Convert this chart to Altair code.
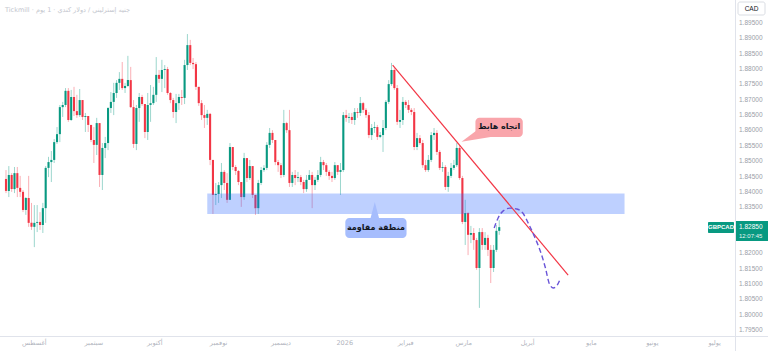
import altair as alt
import pandas as pd

# ---------------- data ----------------
closes = [
    1.8403, 1.8455, 1.8409, 1.8461, 1.8413, 1.8400, 1.8341, 1.8380, 1.8299, 1.8286,
    1.8299, 1.8302, 1.8292, 1.8347, 1.8478, 1.8497, 1.8504, 1.8562, 1.8588, 1.8676,
    1.8683, 1.8729, 1.8634, 1.8709, 1.8663, 1.8650, 1.8699, 1.8644, 1.8647, 1.8618,
    1.8569, 1.8553, 1.8624, 1.8455, 1.8543, 1.8559, 1.8673, 1.8693, 1.8722, 1.8755,
    1.8768, 1.8738, 1.8745, 1.8764, 1.8676, 1.8556, 1.8673, 1.8709, 1.8686, 1.8595,
    1.8683, 1.8689, 1.8716, 1.8781, 1.8768, 1.8797, 1.8800, 1.8722, 1.8699, 1.8660,
    1.8689, 1.8709, 1.8706, 1.8813, 1.8878, 1.8820, 1.8816, 1.8742, 1.8689, 1.8650,
    1.8641, 1.8654, 1.8504, 1.8390, 1.8393, 1.8422, 1.8465, 1.8429, 1.8374, 1.8546,
    1.8481, 1.8468, 1.8432, 1.8383, 1.8510, 1.8445, 1.8484, 1.8390, 1.8347, 1.8429,
    1.8471, 1.8478, 1.8553, 1.8592, 1.8569, 1.8497, 1.8487, 1.8455, 1.8624, 1.8601,
    1.8429, 1.8455, 1.8445, 1.8448, 1.8432, 1.8409, 1.8439, 1.8455, 1.8422, 1.8439,
    1.8455, 1.8497, 1.8487, 1.8465, 1.8452, 1.8445, 1.8487, 1.8465, 1.8471, 1.8650,
    1.8641, 1.8644, 1.8634, 1.8660, 1.8657, 1.8689, 1.8667, 1.8650, 1.8585, 1.8608,
    1.8611, 1.8579, 1.8585, 1.8608, 1.8693, 1.8751, 1.8797, 1.8738, 1.8628, 1.8634,
    1.8693, 1.8683, 1.8667, 1.8660, 1.8546, 1.8575, 1.8559, 1.8487, 1.8471, 1.8504,
    1.8585, 1.8592, 1.8530, 1.8478, 1.8481, 1.8416, 1.8452, 1.8478, 1.8487, 1.8543,
    1.8445, 1.8302, 1.8331, 1.8260, 1.8266, 1.8243, 1.8152, 1.8269, 1.8227, 1.8250,
    1.8211, 1.8152, 1.8211, 1.8273, 1.8285,
]
opens = [
    1.8442, 1.8403, 1.8455, 1.8409, 1.8461, 1.8413, 1.8400, 1.8341, 1.8380, 1.8299,
    1.8286, 1.8299, 1.8302, 1.8292, 1.8347, 1.8478, 1.8497, 1.8504, 1.8562, 1.8588,
    1.8676, 1.8683, 1.8729, 1.8634, 1.8709, 1.8663, 1.8650, 1.8699, 1.8644, 1.8647,
    1.8618, 1.8569, 1.8553, 1.8624, 1.8455, 1.8543, 1.8559, 1.8673, 1.8693, 1.8722,
    1.8755, 1.8768, 1.8738, 1.8745, 1.8764, 1.8676, 1.8556, 1.8673, 1.8709, 1.8686,
    1.8595, 1.8683, 1.8689, 1.8716, 1.8781, 1.8768, 1.8797, 1.8800, 1.8722, 1.8699,
    1.8660, 1.8689, 1.8709, 1.8706, 1.8813, 1.8878, 1.8820, 1.8816, 1.8742, 1.8689,
    1.8650, 1.8641, 1.8654, 1.8504, 1.8390, 1.8393, 1.8422, 1.8465, 1.8429, 1.8374,
    1.8546, 1.8481, 1.8468, 1.8432, 1.8383, 1.8510, 1.8445, 1.8484, 1.8390, 1.8347,
    1.8429, 1.8471, 1.8478, 1.8553, 1.8592, 1.8569, 1.8497, 1.8487, 1.8455, 1.8624,
    1.8601, 1.8429, 1.8455, 1.8445, 1.8448, 1.8432, 1.8409, 1.8439, 1.8455, 1.8422,
    1.8439, 1.8455, 1.8497, 1.8487, 1.8465, 1.8452, 1.8445, 1.8487, 1.8465, 1.8471,
    1.8650, 1.8641, 1.8644, 1.8634, 1.8660, 1.8657, 1.8689, 1.8667, 1.8650, 1.8585,
    1.8608, 1.8611, 1.8579, 1.8585, 1.8608, 1.8693, 1.8751, 1.8797, 1.8738, 1.8628,
    1.8634, 1.8693, 1.8683, 1.8667, 1.8660, 1.8546, 1.8575, 1.8559, 1.8487, 1.8471,
    1.8504, 1.8585, 1.8592, 1.8530, 1.8478, 1.8481, 1.8416, 1.8452, 1.8478, 1.8487,
    1.8543, 1.8445, 1.8302, 1.8331, 1.8260, 1.8266, 1.8243, 1.8152, 1.8269, 1.8227,
    1.8250, 1.8211, 1.8152, 1.8211, 1.8273,
]
highs = [
    1.8471, 1.8484, 1.8461, 1.8481, 1.8481, 1.8452, 1.8406, 1.8383, 1.8452, 1.8364,
    1.8357, 1.8357, 1.8334, 1.8364, 1.8484, 1.8514, 1.8533, 1.8572, 1.8611, 1.8683,
    1.8693, 1.8738, 1.8738, 1.8732, 1.8742, 1.8716, 1.8735, 1.8699, 1.8657, 1.8647,
    1.8618, 1.8611, 1.8641, 1.8624, 1.8559, 1.8579, 1.8676, 1.8725, 1.8755, 1.8764,
    1.8790, 1.8823, 1.8755, 1.8843, 1.8807, 1.8699, 1.8683, 1.8722, 1.8716, 1.8686,
    1.8722, 1.8748, 1.8742, 1.8839, 1.8797, 1.8830, 1.8813, 1.8807, 1.8725, 1.8706,
    1.8719, 1.8719, 1.8732, 1.8830, 1.8914, 1.8895, 1.8836, 1.8823, 1.8742, 1.8699,
    1.8683, 1.8667, 1.8657, 1.8504, 1.8429, 1.8432, 1.8494, 1.8471, 1.8461, 1.8559,
    1.8546, 1.8487, 1.8471, 1.8432, 1.8527, 1.8510, 1.8504, 1.8484, 1.8390, 1.8439,
    1.8481, 1.8487, 1.8562, 1.8608, 1.8601, 1.8569, 1.8504, 1.8494, 1.8667, 1.8628,
    1.8667, 1.8465, 1.8471, 1.8465, 1.8455, 1.8439, 1.8455, 1.8471, 1.8465, 1.8448,
    1.8471, 1.8514, 1.8504, 1.8494, 1.8471, 1.8465, 1.8497, 1.8487, 1.8494, 1.8660,
    1.8667, 1.8657, 1.8657, 1.8673, 1.8673, 1.8709, 1.8693, 1.8673, 1.8660, 1.8621,
    1.8628, 1.8618, 1.8595, 1.8634, 1.8699, 1.8764, 1.8820, 1.8803, 1.8748, 1.8667,
    1.8709, 1.8699, 1.8699, 1.8673, 1.8673, 1.8592, 1.8585, 1.8569, 1.8504, 1.8520,
    1.8595, 1.8608, 1.8601, 1.8536, 1.8497, 1.8487, 1.8465, 1.8494, 1.8504, 1.8559,
    1.8553, 1.8452, 1.8374, 1.8334, 1.8289, 1.8282, 1.8250, 1.8282, 1.8282, 1.8269,
    1.8260, 1.8227, 1.8227, 1.8292, 1.8308,
]
lows = [
    1.8396, 1.8383, 1.8400, 1.8396, 1.8383, 1.8383, 1.8334, 1.8325, 1.8286, 1.8276,
    1.8220, 1.8269, 1.8276, 1.8266, 1.8299, 1.8448, 1.8432, 1.8494, 1.8556, 1.8562,
    1.8644, 1.8676, 1.8628, 1.8631, 1.8647, 1.8641, 1.8644, 1.8634, 1.8595, 1.8595,
    1.8562, 1.8494, 1.8520, 1.8416, 1.8406, 1.8510, 1.8536, 1.8657, 1.8650, 1.8706,
    1.8732, 1.8732, 1.8722, 1.8742, 1.8673, 1.8543, 1.8536, 1.8628, 1.8680, 1.8575,
    1.8569, 1.8628, 1.8683, 1.8693, 1.8755, 1.8725, 1.8738, 1.8716, 1.8689, 1.8641,
    1.8624, 1.8667, 1.8683, 1.8686, 1.8797, 1.8813, 1.8800, 1.8732, 1.8680, 1.8634,
    1.8608, 1.8618, 1.8487, 1.8328, 1.8357, 1.8364, 1.8380, 1.8406, 1.8364, 1.8374,
    1.8471, 1.8455, 1.8422, 1.8351, 1.8374, 1.8432, 1.8439, 1.8380, 1.8325, 1.8328,
    1.8422, 1.8465, 1.8471, 1.8543, 1.8559, 1.8487, 1.8465, 1.8445, 1.8448, 1.8592,
    1.8416, 1.8416, 1.8422, 1.8432, 1.8422, 1.8396, 1.8400, 1.8439, 1.8347, 1.8406,
    1.8432, 1.8448, 1.8471, 1.8452, 1.8439, 1.8432, 1.8439, 1.8455, 1.8390, 1.8465,
    1.8628, 1.8624, 1.8621, 1.8618, 1.8641, 1.8647, 1.8657, 1.8641, 1.8575, 1.8569,
    1.8592, 1.8569, 1.8575, 1.8530, 1.8601, 1.8686, 1.8745, 1.8732, 1.8618, 1.8608,
    1.8618, 1.8673, 1.8657, 1.8650, 1.8536, 1.8536, 1.8553, 1.8478, 1.8465, 1.8465,
    1.8497, 1.8569, 1.8520, 1.8471, 1.8465, 1.8406, 1.8400, 1.8445, 1.8471, 1.8481,
    1.8439, 1.8295, 1.8227, 1.8194, 1.8233, 1.8211, 1.8146, 1.8022, 1.8211, 1.8211,
    1.8191, 1.8103, 1.8139, 1.8204, 1.8260,
]

month_names = ["أغسطس", "سبتمبر", "أكتوبر", "نوفمبر", "ديسمبر", "2026",
               "فبراير", "مارس", "أبريل", "مايو", "يونيو", "يوليو"]
month_bars = [10, 31, 52.5, 75, 97, 119.5, 141, 161.5, 184, 206.5, 228, 250]

# price-scale labels that are visible (1.830 and 1.825 sit under the last-price tag)
price_ticks = [1.795, 1.800, 1.805, 1.810, 1.815, 1.820, 1.835, 1.840,
               1.845, 1.850, 1.855, 1.860, 1.865, 1.870, 1.875, 1.880, 1.885, 1.890, 1.895]
price_labels = ["1.79500", "1.80000", "1.80500", "1.81000", "1.81500", "1.82000",
                "1.83500", "1.84000", "1.84500", "1.85000", "1.85500", "1.86000",
                "1.86500", "1.87000", "1.87500", "1.88000", "1.88500", "1.89000", "1.89500"]

last_price = 1.8285

# annotations (bar index / price)
zone_bars = [71.0, 218.2]
zone_prices = [1.8395, 1.8328]
trend_bars = [136.4, 198.3]
trend_prices = [1.8813, 1.8129]
path_bars = [172.2, 173.6, 175.4, 177.8, 180.2, 182.3, 184.4, 186.5, 188.6, 190.3, 191.7, 193.1, 194.5, 195.5]
path_prices = [1.8282, 1.8315, 1.8338, 1.8347, 1.8344, 1.8331, 1.8295, 1.8253, 1.8204, 1.8152, 1.8100, 1.8087, 1.8097, 1.8116]

# ---------------- frame ----------------
W, H = 735, 336
xs = alt.Scale(domain=[-0.35, 255.4], nice=False, zero=False)
ys = alt.Scale(domain=[1.79305, 1.90249], nice=False, zero=False)
GREEN, RED = "#089981", "#f23645"
cscale = alt.Scale(domain=["up", "down"], range=[GREEN, RED])
AR_FONT = "DejaVu Sans"

df = pd.DataFrame({"i": list(range(len(closes))), "open": opens, "high": highs,
                   "low": lows, "close": closes})
df["dir"] = ["up" if c >= o else "down" for o, c in zip(opens, closes)]

wicks = alt.Chart(df).mark_rule(strokeWidth=1, opacity=0.4).encode(
    x=alt.X("i:Q", scale=xs, axis=None),
    y=alt.Y("low:Q", scale=ys, axis=None),
    y2="high:Q",
    color=alt.Color("dir:N", scale=cscale, legend=None),
)
bodies = alt.Chart(df).mark_bar(size=2.1).encode(
    x=alt.X("i:Q", scale=xs, axis=None),
    y=alt.Y("open:Q", scale=ys, axis=None),
    y2="close:Q",
    color=alt.Color("dir:N", scale=cscale, legend=None),
)

# right price scale labels
ylabels = alt.Chart(pd.DataFrame({"p": price_ticks, "t": price_labels})).mark_text(
    font="Liberation Sans", fontSize=6.5, color="#9a9ea8", align="left", baseline="middle").encode(
    x=alt.value(W + 4), y=alt.Y("p:Q", scale=ys, axis=None), text="t:N")

zone = alt.Chart(pd.DataFrame({"x1": [zone_bars[0]], "x2": [zone_bars[1]],
                               "y1": [zone_prices[0]], "y2": [zone_prices[1]]})).mark_rect(
    color="#2962ff", opacity=0.3).encode(
    x=alt.X("x1:Q", scale=xs, axis=None), x2="x2:Q",
    y=alt.Y("y1:Q", scale=ys, axis=None), y2="y2:Q")

trend = alt.Chart(pd.DataFrame({"b": trend_bars, "p": trend_prices})).mark_line(
    color=RED, strokeWidth=1.2).encode(
    x=alt.X("b:Q", scale=xs, axis=None), y=alt.Y("p:Q", scale=ys, axis=None))

path = alt.Chart(pd.DataFrame({"b": path_bars, "p": path_prices, "o": list(range(len(path_bars)))})).mark_line(
    color="#6a55d8", strokeWidth=1.4, strokeDash=[5, 3], interpolate="monotone").encode(
    x=alt.X("b:Q", scale=xs, axis=None), y=alt.Y("p:Q", scale=ys, axis=None), order="o:Q")

# label: resistance zone
blue_box = alt.Chart(pd.DataFrame({"x1": [119.7], "x2": [141.3], "y1": [1.8315], "y2": [1.8250]})).mark_rect(
    color="#a6bdfd", cornerRadius=4).encode(
    x=alt.X("x1:Q", scale=xs, axis=None), x2="x2:Q",
    y=alt.Y("y1:Q", scale=ys, axis=None), y2="y2:Q")
blue_tail = alt.Chart(pd.DataFrame({"b": [130.1], "p": [1.8338]})).mark_point(
    shape="M0,-0.9 L0.45,0.8 L-0.45,0.8 Z", filled=True, size=400, color="#a6bdfd", opacity=1).encode(
    x=alt.X("b:Q", scale=xs, axis=None), y=alt.Y("p:Q", scale=ys, axis=None))
blue_text = alt.Chart(pd.DataFrame({"b": [130.5], "p": [1.8282], "t": ["منطقة مقاومة"]})).mark_text(
    font=AR_FONT, fontSize=8, fontWeight="bold", color="#131722").encode(
    x=alt.X("b:Q", scale=xs, axis=None), y=alt.Y("p:Q", scale=ys, axis=None), text="t:N")

# label: downtrend
pink_tail = alt.Chart(pd.DataFrame({"b": [166.0], "p": [1.8579]})).mark_point(
    shape="M-0.94,0.31 L0.06,-0.44 L0.88,0 Z", filled=True, size=1024, color="#f9a5ab", opacity=1).encode(
    x=alt.X("b:Q", scale=xs, axis=None), y=alt.Y("p:Q", scale=ys, axis=None))
pink_box = alt.Chart(pd.DataFrame({"x1": [165.6], "x2": [182.3], "y1": [1.8641], "y2": [1.8579]})).mark_rect(
    color="#f9a5ab", cornerRadius=4).encode(
    x=alt.X("x1:Q", scale=xs, axis=None), x2="x2:Q",
    y=alt.Y("y1:Q", scale=ys, axis=None), y2="y2:Q")
pink_text = alt.Chart(pd.DataFrame({"b": [174.0], "p": [1.8610], "t": ["اتجاه هابط"]})).mark_text(
    font=AR_FONT, fontSize=8, fontWeight="bold", color="#131722").encode(
    x=alt.X("b:Q", scale=xs, axis=None), y=alt.Y("p:Q", scale=ys, axis=None), text="t:N")

# month labels
months = alt.Chart(pd.DataFrame({"b": month_bars, "t": month_names})).mark_text(
    font=AR_FONT, fontSize=6.5, color="#b2b5be", baseline="middle").encode(
    x=alt.X("b:Q", scale=xs, axis=None), y=alt.value(343), text="t:N")

# frame lines
vline = alt.Chart(pd.DataFrame({"a": [0]})).mark_rule(color="#e0e3eb", strokeWidth=1).encode(
    x=alt.value(W + 0.5), y=alt.value(0), y2=alt.value(351))
hline = alt.Chart(pd.DataFrame({"a": [0]})).mark_rule(color="#e0e3eb", strokeWidth=1).encode(
    x=alt.value(0), x2=alt.value(768), y=alt.value(H + 0.5))

# title
title = alt.Chart(pd.DataFrame({"t": ["Tickmill · جنيه إسترليني / دولار كندي · 1 يوم"]})).mark_text(
    font=AR_FONT, fontSize=6.5, color="#c3c6ce", align="left", baseline="middle").encode(
    x=alt.value(5), y=alt.value(10), text="t:N")

# CAD box
cad_box = alt.Chart(pd.DataFrame({"a": [0]})).mark_rect(
    fill="white", stroke="#d1d4dc", strokeWidth=0.8, cornerRadius=2).encode(
    x=alt.value(738), x2=alt.value(765), y=alt.value(2), y2=alt.value(15))
cad_text = alt.Chart(pd.DataFrame({"t": ["CAD"]})).mark_text(
    font="Liberation Sans", fontSize=6.5, color="#131722").encode(
    x=alt.value(751.5), y=alt.value(8.5), text="t:N")

# last price tags
tag_df = pd.DataFrame({"p": [last_price], "sym": ["GBPCAD"], "val": ["1.82850"], "tm": ["12:07:45"]})
sym_box = alt.Chart(tag_df).mark_rect(color=GREEN, cornerRadius=1).encode(
    x=alt.value(708), x2=alt.value(734), y=alt.value(222), y2=alt.value(233))
sym_text = alt.Chart(tag_df).mark_text(font="Liberation Sans", fontSize=6, color="white", fontWeight="bold").encode(
    x=alt.value(721), y=alt.Y("p:Q", scale=ys, axis=None), text="sym:N")
val_box = alt.Chart(tag_df).mark_rect(color=GREEN).encode(
    x=alt.value(736), x2=alt.value(768), y=alt.value(221), y2=alt.value(241))
val_text = alt.Chart(tag_df).mark_text(font="Liberation Sans", fontSize=6.5, color="white", align="left").encode(
    x=alt.value(739), y=alt.Y("p:Q", scale=ys, axis=None), text="val:N")
tm_text = alt.Chart(tag_df).mark_text(font="Liberation Sans", fontSize=6, color="#e6f5f2", align="left", dy=9).encode(
    x=alt.value(739), y=alt.Y("p:Q", scale=ys, axis=None), text="tm:N")

chart = alt.layer(
    wicks, bodies, ylabels, zone, trend, path,
    pink_tail, pink_box, pink_text,
    blue_tail, blue_box, blue_text,
    months, vline, hline, title, cad_box, cad_text,
    sym_box, sym_text, val_box, val_text, tm_text,
).properties(
    width=W, height=H,
    autosize=alt.AutoSizeParams(type="none"),
    padding={"left": 0, "top": 0, "right": 768 - W, "bottom": 351 - H},
    background="white",
).configure_view(stroke=None)

chart.save("out.html", embed_options={"renderer": "svg", "actions": False})
